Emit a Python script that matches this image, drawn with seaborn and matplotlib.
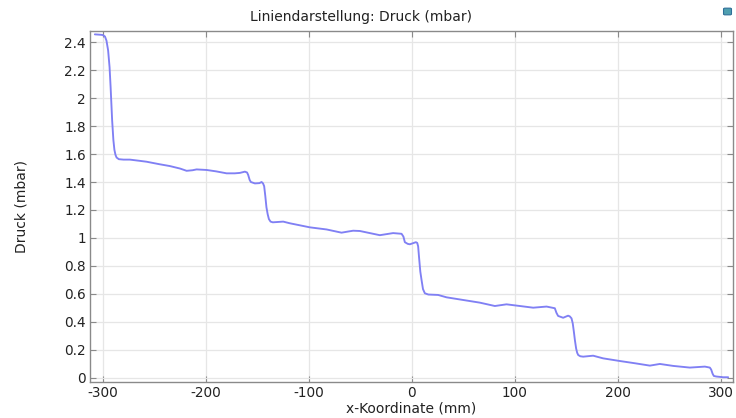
import numpy as np
import pandas as pd
import matplotlib
matplotlib.use("Agg")
import matplotlib.pyplot as plt
import seaborn as sns
from matplotlib.patches import FancyBboxPatch

# Pressure along the x line (x in mm, pressure in mbar)
x_mm = [-307.8, -302.0, -300.0, -298.0, -296.5, -294.9, -293.5, -292.5, -291.0,
        -289.8, -288.8, -287.8, -286.7, -284.5, -280.0, -273.8, -265.0, -257.6,
        -245.0, -235.0, -225.0, -218.7, -213.0, -209.0, -199.3, -190.0, -179.9,
        -172.0, -167.0, -162.1, -160.0, -158.9, -157.5, -156.3, -152.4, -148.0,
        -145.9, -144.5, -143.4, -142.3, -141.2, -140.0, -138.8, -137.2, -135.0,
        -133.0, -124.9, -118.4, -99.0, -82.8, -68.3, -62.0, -57.0, -50.5,
        -31.1, -18.2, -10.0, -8.2, -6.8, -4.0, -1.9, 3.9, 5.2, 6.1, 7.0,
        8.2, 9.4, 10.8, 12.6, 16.0, 25.5, 33.7, 66.0, 80.6, 91.9, 117.8,
        130.8, 138.8, 140.4, 142.0, 146.9, 151.7, 153.3, 155.0, 156.2, 157.3,
        158.3, 159.5, 160.5, 161.5, 163.5, 166.3, 176.0, 185.7, 201.9, 216.5,
        231.1, 240.8, 253.7, 269.9, 284.5, 289.3, 290.6, 292.0, 293.2, 295.8,
        302.2, 307.1]
druck = [2.455, 2.452, 2.45, 2.44, 2.41, 2.34, 2.22, 2.08, 1.84,
         1.70, 1.63, 1.595, 1.575, 1.563, 1.56, 1.56, 1.552, 1.545,
         1.527, 1.514, 1.496, 1.48, 1.484, 1.49, 1.486, 1.476, 1.462,
         1.462, 1.465, 1.474, 1.468, 1.45, 1.415, 1.40, 1.39, 1.392,
         1.40, 1.39, 1.37, 1.30, 1.22, 1.17, 1.135, 1.117, 1.112,
         1.113, 1.117, 1.105, 1.076, 1.061, 1.038, 1.046, 1.052, 1.05,
         1.02, 1.035, 1.03, 1.01, 0.97, 0.958, 0.955, 0.97, 0.965, 0.94, 0.86,
         0.76, 0.70, 0.635, 0.605, 0.596, 0.593, 0.576, 0.538, 0.514, 0.526, 0.502,
         0.51, 0.498, 0.465, 0.443, 0.43, 0.445, 0.44, 0.426, 0.39, 0.33,
         0.27, 0.21, 0.18, 0.164, 0.155, 0.152, 0.159, 0.14, 0.121, 0.105,
         0.088, 0.10, 0.086, 0.074, 0.081, 0.074, 0.06, 0.03, 0.014, 0.01,
         0.005, 0.005]

x_ticks = [-300, -200, -100, 0, 100, 200, 300]
y_ticks = [0, 0.2, 0.4, 0.6, 0.8, 1.0, 1.2, 1.4, 1.6, 1.8, 2.0, 2.2, 2.4]
y_tick_labels = ["0", "0.2", "0.4", "0.6", "0.8", "1", "1.2", "1.4", "1.6",
                 "1.8", "2", "2.2", "2.4"]

df = pd.DataFrame({"x": x_mm, "p": druck})

sns.set_theme(style="white")
plt.rcParams["font.family"] = ["DejaVu Sans"]

fig = plt.figure(figsize=(7.36, 4.18), dpi=100)
ax = fig.add_axes([90 / 736, 1 - 382 / 418, (733 - 90) / 736, (382 - 31) / 418])

sns.lineplot(data=df, x="x", y="p", ax=ax, color="#8080f4", linewidth=1.35,
             sort=False, estimator=None)

ax.set_xlim(-312.5, 311.8)
ax.set_ylim(-0.029, 2.479)
ax.set_xticks(x_ticks)
ax.set_xticklabels([str(t) for t in x_ticks])
ax.set_yticks(y_ticks)
ax.set_yticklabels(y_tick_labels)

ax.grid(True, color="#e6e6e6", linewidth=0.9)
for s in ax.spines.values():
    s.set_color("#8a8a8a")
    s.set_linewidth(1.0)
ax.tick_params(axis="both", which="both", direction="in", length=4, width=0.8,
               color="#8a8a8a", labelsize=9.8, labelcolor="#222222",
               top=True, right=True, bottom=True, left=True, pad=3)

ax.set_xlabel("x-Koordinate (mm)", fontsize=10, color="#222222", labelpad=1)
ax.set_ylabel("Druck (mbar)", fontsize=10, color="#222222", labelpad=26)

fig.text(361 / 736, 1 - 17 / 418, "Liniendarstellung: Druck (mbar)",
         ha="center", va="center", fontsize=10, color="#222222")

# small toolbar icon in the corner
icon = FancyBboxPatch((725 / 736, 1 - 14 / 418), 5 / 736, 5 / 418,
                      boxstyle="round,pad=0.002", transform=fig.transFigure,
                      facecolor="#4f9fb0", edgecolor="#2f6f98", linewidth=0.8)
fig.patches.append(icon)

fig.savefig("out.png", dpi=100)
